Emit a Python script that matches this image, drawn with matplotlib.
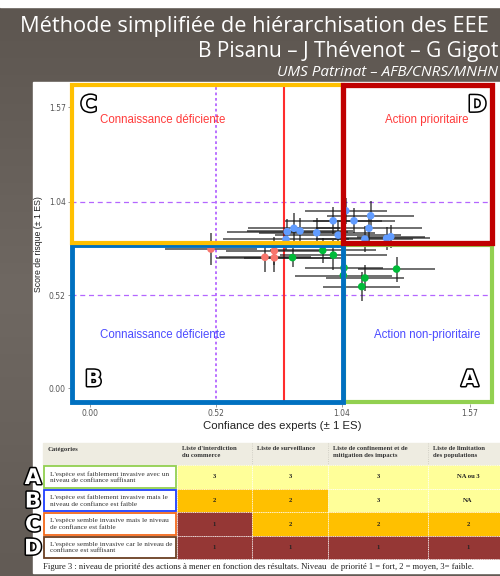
import numpy as np
import matplotlib.pyplot as plt
import matplotlib.patheffects as pe
from matplotlib.patches import Rectangle
from matplotlib.colors import LinearSegmentedColormap

# points: confiance (x), score (y) and their errors (1 ES)
bleu_x = [1.057, 1.005, 1.091, 1.160, 1.153, 0.815, 0.843, 0.868, 0.937, 1.026, 0.810, 1.136, 1.226, 1.243]
bleu_y = [0.991, 0.935, 0.935, 0.963, 0.893, 0.874, 0.893, 0.878, 0.868, 0.855, 0.831, 0.833, 0.837, 0.846]
bleu_xerr = [0.17, 0.20, 0.17, 0.18, 0.22, 0.25, 0.19, 0.22, 0.24, 0.26, 0.26, 0.20, 0.18, 0.14]
bleu_yerr = [0.073, 0.075, 0.07, 0.08, 0.075, 0.07, 0.085, 0.07, 0.08, 0.075, 0.06, 0.07, 0.065, 0.065]

rouge_x = [0.500, 0.723, 0.762, 0.762]
rouge_y = [0.777, 0.731, 0.767, 0.728]
rouge_xerr = [0.19, 0.19, 0.20, 0.24]
rouge_yerr = [0.09, 0.08, 0.08, 0.08]

vert_x = [0.837, 0.962, 1.006, 1.050, 1.047, 1.136, 1.123, 1.267]
vert_y = [0.729, 0.769, 0.743, 0.672, 0.629, 0.615, 0.567, 0.665]
vert_xerr = [0.20, 0.22, 0.22, 0.16, 0.20, 0.16, 0.16, 0.16]
vert_yerr = [0.055, 0.07, 0.085, 0.07, 0.07, 0.07, 0.083, 0.07]

ticks = [0.00, 0.52, 1.04, 1.57]
tick_labels = ["0.00", "0.52", "1.04", "1.57"]

# tableau
entetes = ["Catégories", "Liste d'interdiction\ndu commerce", "Liste de surveillance",
           "Liste de confinement et de\nmitigation des impacts", "Liste de limitation\ndes populations"]
categories = ["L'espèce est faiblement invasive avec un\nniveau de confiance suffisant",
              "L'espèce est faiblement invasive mais le\nniveau de confiance est faible",
              "L'espèce semble invasive mais le niveau\nde confiance est faible",
              "L'espèce semble invasive car le niveau de\nconfiance est suffisant"]
priorites = [["3", "3", "3", "NA ou 3"],
             ["2", "2", "3", "NA"],
             ["1", "2", "2", "2"],
             ["1", "1", "1", "1"]]
lettres = ["A", "B", "C", "D"]

fig = plt.figure(figsize=(5, 5.76), dpi=100)

# fond de la diapo, en pixels
bg = fig.add_axes([0, 0, 1, 1])
cmap = LinearSegmentedColormap.from_list("fond", ["#5d5650", "#6f6862", "#625b55"])
bg.imshow(np.linspace(0, 1, 100).reshape(-1, 1), extent=(0, 500, 576, 7), cmap=cmap, aspect="auto")
bg.add_patch(Rectangle((0, 0), 500, 7, color="white"))
bg.add_patch(Rectangle((33, 82), 467, 491, color="white"))
bg.set_xlim(0, 500)
bg.set_ylim(576, 0)
bg.axis("off")

titre_font = ["Open Sans", "DejaVu Sans"]
bg.text(20, 32, "Méthode simplifiée de hiérarchisation des EEE", color="white",
        fontsize=15.7, family=titre_font, va="baseline")
bg.text(498, 57, "B Pisanu – J Thévenot – G Gigot", color="white",
        fontsize=15, family=titre_font, va="baseline", ha="right")
bg.text(498, 76, "UMS Patrinat – AFB/CNRS/MNHN", color="white",
        fontsize=11, family=titre_font, style="italic", va="baseline", ha="right")

contour = [pe.withStroke(linewidth=2.2, foreground="black")]

# tableau
col_x = [43, 177, 252, 328, 428, 510]
row_y = [443, 465, 489, 512, 536, 559]
fonds = [["#ffff99", "#ffff99", "#ffff99", "#ffff99"],
         ["#ffc000", "#ffc000", "#ffff99", "#ffff99"],
         ["#953735", "#ffc000", "#ffc000", "#ffc000"],
         ["#953735", "#953735", "#953735", "#953735"]]
bords = ["#92d050", "#1f3fff", "#f36a1c", "#6b3f22"]
serif = ["Liberation Serif", "DejaVu Serif"]

bg.add_patch(Rectangle((col_x[0], row_y[0]), col_x[-1] - col_x[0], row_y[1] - row_y[0], color="#eeece1"))
for j, h in enumerate(entetes):
    bg.text(col_x[j] + 5, row_y[0] + 3.5, h, fontsize=4.8, family=serif, fontweight="bold",
            color="#333333", va="top", linespacing=1.45)
for i in range(4):
    y0, y1 = row_y[i + 1], row_y[i + 2]
    for j in range(4):
        bg.add_patch(Rectangle((col_x[j + 1], y0), col_x[j + 2] - col_x[j + 1], y1 - y0,
                               facecolor=fonds[i][j], edgecolor="white", lw=0.6, ls=":"))
        bg.text((col_x[j + 1] + col_x[j + 2]) / 2 if j < 3 else 468, (y0 + y1) / 2, priorites[i][j],
                fontsize=4.8, family=serif, fontweight="bold", color="#222222", ha="center", va="center")
    bg.add_patch(Rectangle((col_x[0] + 1, y0 + 0.8), col_x[1] - col_x[0] - 2, y1 - y0 - 1.6,
                           facecolor="white", edgecolor=bords[i], lw=1.3))
    bg.text(col_x[0] + 7, (y0 + y1) / 2, categories[i], fontsize=5.2, family=serif,
            color="#333333", va="center", linespacing=1.4)
    bg.text(33, (y0 + y1) / 2 + 1, lettres[i], fontsize=15.5, fontweight="bold", color="white",
            ha="center", va="center", path_effects=contour)
for xv in col_x[2:5]:
    bg.plot([xv, xv], [row_y[0], row_y[1]], color="#c8c6bc", lw=0.6, ls=":")
bg.text(43, 567, "Figure 3 : niveau de priorité des actions à mener en fonction des résultats. "
        "Niveau  de priorité 1 = fort, 2 = moyen, 3= faible.", fontsize=6.2, family=serif,
        color="#222222", va="center")

# graphique
ax = fig.add_axes([0.1412, 0.2984, 0.847, 0.5559])
ax.patch.set_alpha(0)
ax.set_xlim(-0.08, 1.67)
ax.set_ylim(-0.09, 1.70)
for s in ax.spines.values():
    s.set_visible(False)
sans = ["Liberation Sans", "DejaVu Sans"]
ax.set_xticks(ticks)
ax.set_xticklabels(tick_labels)
ax.set_yticks(ticks)
ax.set_yticklabels(tick_labels)
ax.tick_params(length=2, width=0.6, color="#888888", labelsize=5.5, labelcolor="#555555", pad=1.5)
ax.set_xlabel("Confiance des experts (± 1 ES)", fontsize=8.2, family=sans, color="#222222", labelpad=2)
ax.set_ylabel("Score de risque (± 1 ES)", fontsize=6.3, family=sans, color="#222222", labelpad=4)

violet = "#b466ff"
ax.axhline(1.04, color=violet, lw=0.9, ls=(0, (4, 3)))
ax.axhline(0.52, color=violet, lw=0.9, ls=(0, (4, 3)))
ax.axvline(0.52, color=violet, lw=1.3, ls=(0, (1.5, 1.5)))
ax.axvline(0.80, color="#ff2d2d", lw=1.5, ymin=0.01, ymax=0.99)

for xs, ys, xe, ye, c in [(rouge_x, rouge_y, rouge_xerr, rouge_yerr, "#F8766D"),
                          (vert_x, vert_y, vert_xerr, vert_yerr, "#00BA38"),
                          (bleu_x, bleu_y, bleu_xerr, bleu_yerr, "#619CFF")]:
    ax.errorbar(xs, ys, xerr=xe, yerr=ye, fmt="none", ecolor="#1a1a1a", elinewidth=1.1, alpha=0.8, zorder=3)
    ax.scatter(xs, ys, s=30, color=c, zorder=4, edgecolors="none")

ax.text(0.30, 1.498, "Connaissance déficiente", color="#ff3b3b", fontsize=8.3, family=sans, ha="center", va="center")
ax.text(1.393, 1.498, "Action prioritaire", color="#ff3b3b", fontsize=8.3, family=sans, ha="center", va="center")
ax.text(0.30, 0.296, "Connaissance déficiente", color="#4b4bff", fontsize=8.3, family=sans, ha="center", va="center")
ax.text(1.393, 0.296, "Action non-prioritaire", color="#4b4bff", fontsize=8.3, family=sans, ha="center", va="center")

# cadres des quadrants
ax.add_patch(Rectangle((1.050, -0.078), 0.611, 0.878, fill=False, edgecolor="#92d050", lw=3, clip_on=False, zorder=5))
ax.add_patch(Rectangle((-0.074, -0.078), 1.119, 0.878, fill=False, edgecolor="#0070c0", lw=3.5, clip_on=False, zorder=5))
ax.add_patch(Rectangle((-0.074, 0.810), 1.119, 0.884, fill=False, edgecolor="#ffc000", lw=3, clip_on=False, zorder=6))
ax.add_patch(Rectangle((1.045, 0.810), 0.616, 0.884, fill=False, edgecolor="#c00000", lw=3.8, clip_on=False, zorder=7))

for x, y, l in [(-0.005, 1.58, "C"), (1.60, 1.58, "D"), (0.015, 0.045, "B"), (1.57, 0.045, "A")]:
    ax.text(x, y, l, fontsize=16, fontweight="bold", color="white", ha="center", va="center",
            path_effects=contour, zorder=8)

fig.savefig("out.png", dpi=100)
